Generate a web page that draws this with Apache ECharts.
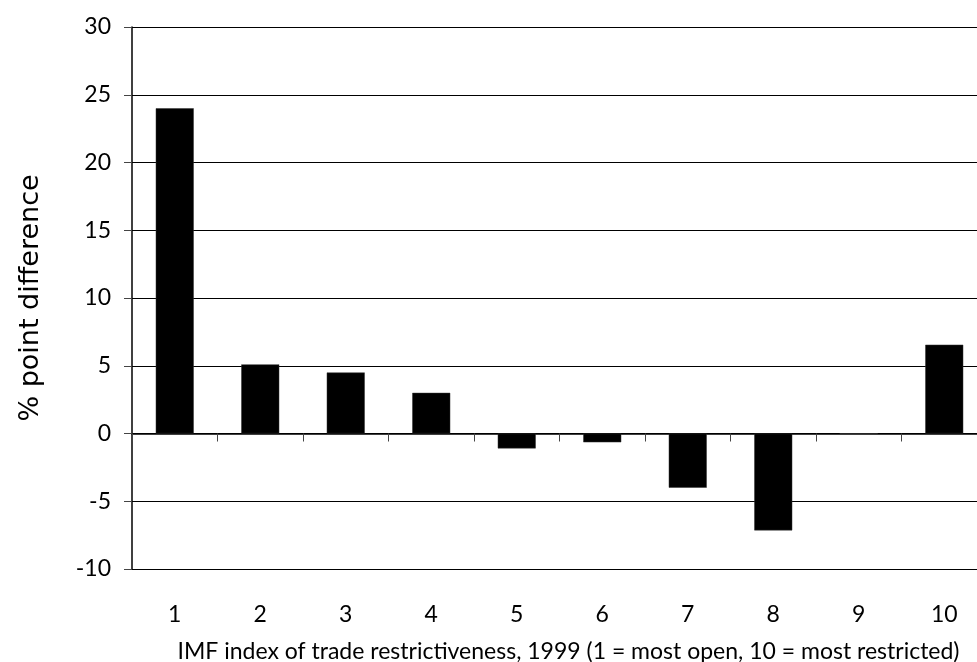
<!DOCTYPE html>
<html>
<head>
<meta charset="utf-8">
<script src="https://cdn.jsdelivr.net/npm/echarts@6/dist/echarts.min.js"></script>
<style>html,body{margin:0;padding:0;background:#fff}#c{width:977px;height:662px}</style>
</head>
<body>
<div id="c"></div>
<script>
var categories = ['1','2','3','4','5','6','7','8','9','10'];
var values = [24, 5.1, 4.5, 3.0, -1.1, -0.65, -4.0, -7.15, 0, 6.55];
var yTicks = {min: -10, max: 30, interval: 5};
var xTitle = 'IMF index of trade restrictiveness, 1999 (1 = most open, 10 = most restricted)';
var yTitle = '% point difference';

var chart = echarts.init(document.getElementById('c'), null, {renderer: 'canvas'});
chart.setOption({
  animation: false,
  backgroundColor: '#fff',
  grid: {left: 132, right: -10, top: 27, bottom: 93, containLabel: false, outerBoundsMode: 'none'},
  xAxis: [{
    type: 'category',
    data: categories,
    position: 'bottom',
    axisLine: {show: true, onZero: true, lineStyle: {color: '#000', width: 1.5}},
    axisTick: {show: true, length: 8, lineStyle: {color: '#444', width: 1}},
    axisLabel: {show: false},
    splitLine: {show: false}
  }, {
    type: 'category',
    data: categories,
    position: 'bottom',
    axisLine: {show: false, onZero: false},
    axisTick: {show: false},
    axisLabel: {show: true, margin: 34, color: '#000', fontFamily: 'Lato', fontSize: 23},
    name: xTitle,
    nameLocation: 'middle',
    nameGap: 71,
    nameTextStyle: {color: '#000', fontFamily: 'Lato', fontSize: 23, padding: [0, 0, 0, 18]},
    splitLine: {show: false}
  }],
  yAxis: {
    type: 'value',
    min: yTicks.min,
    max: yTicks.max,
    interval: yTicks.interval,
    axisLine: {show: true, lineStyle: {color: '#000', width: 1.5}},
    axisTick: {show: true, length: 8, lineStyle: {color: '#444', width: 1}},
    axisLabel: {margin: 21, color: '#000', fontFamily: 'Lato', fontSize: 23},
    splitLine: {show: true, lineStyle: {color: '#000', width: 1.2}},
    name: yTitle,
    nameLocation: 'middle',
    nameRotate: 90,
    nameGap: 88,
    nameTextStyle: {color: '#000', fontFamily: 'DejaVu Sans', fontSize: 27}
  },
  series: [{
    type: 'bar',
    xAxisIndex: 0,
    data: values,
    barWidth: 38,
    itemStyle: {color: '#000', borderColor: '#333', borderWidth: 0.5}
  }]
});
</script>
</body>
</html>
